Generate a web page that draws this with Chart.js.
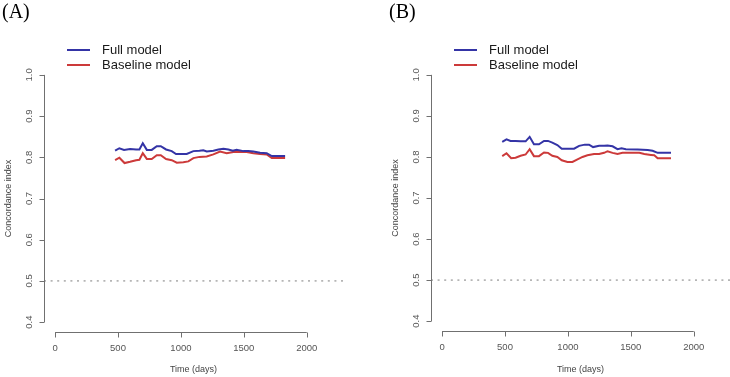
<!DOCTYPE html>
<html>
<head>
<meta charset="utf-8">
<script src="https://cdn.jsdelivr.net/npm/chart.js@4/dist/chart.umd.min.js"></script>
<style>
  body { margin: 0; background: #fff; }
  #wrap { position: relative; width: 730px; height: 377px; overflow: hidden; }
  canvas { position: absolute; top: 0; }
</style>
</head>
<body>
<div id="wrap">
  <canvas id="panelA" width="365" height="377" style="left:0"></canvas>
  <canvas id="panelB" width="343" height="377" style="left:387px"></canvas>
</div>
<script>
// axis ticks (R-style: axes only span the tick range)
const xTicks = [0, 500, 1000, 1500, 2000];
const yTicks = [0.4, 0.5, 0.6, 0.7, 0.8, 0.9, 1.0];
const refLevel = 0.5;

// panel A
const daysAFull = [477,511,548,596,644,670,697,729,768,808,840,882,927,961,993,1046,1099,1147,1178,1205,1258,1298,1338,1377,1412,1443,1496,1536,1576,1629,1682,1722,1828];
const cAFull = [0.816,0.822,0.818,0.820,0.819,0.819,0.834,0.818,0.818,0.827,0.827,0.819,0.815,0.808,0.808,0.808,0.815,0.816,0.817,0.814,0.816,0.819,0.821,0.819,0.816,0.818,0.815,0.815,0.814,0.811,0.810,0.803,0.803];
const daysABase = [477,511,552,596,644,670,697,729,768,808,840,882,927,967,1019,1059,1099,1147,1205,1258,1311,1364,1417,1470,1523,1576,1629,1682,1722,1828];
const cABase = [0.793,0.799,0.786,0.789,0.793,0.794,0.810,0.796,0.796,0.805,0.805,0.796,0.793,0.787,0.788,0.790,0.798,0.801,0.802,0.807,0.814,0.810,0.813,0.813,0.813,0.810,0.808,0.807,0.798,0.798];

// panel B
const daysBFull = [478,512,544,584,624,664,696,730,770,810,842,876,916,951,996,1049,1089,1134,1168,1200,1248,1288,1315,1355,1394,1426,1461,1554,1634,1673,1713,1819];
const cBFull = [0.837,0.843,0.839,0.839,0.838,0.838,0.849,0.831,0.831,0.839,0.839,0.835,0.829,0.820,0.820,0.820,0.827,0.830,0.830,0.824,0.827,0.827,0.828,0.826,0.819,0.821,0.819,0.818,0.817,0.815,0.810,0.810];
const daysBBase = [478,512,549,584,624,664,696,730,770,810,842,876,916,951,996,1036,1076,1116,1155,1208,1248,1288,1315,1355,1394,1434,1501,1567,1607,1660,1686,1713,1819];
const cBBase = [0.802,0.809,0.797,0.798,0.803,0.806,0.819,0.802,0.802,0.811,0.810,0.803,0.800,0.792,0.788,0.788,0.794,0.800,0.804,0.807,0.807,0.810,0.814,0.810,0.807,0.810,0.810,0.810,0.807,0.805,0.804,0.797,0.797];

const seriesNames = ['Full model', 'Baseline model'];
const seriesColors = ['#3434a6', '#cc3a3a'];

// R pads the axis range by 4%
const xMin = -88, xMax = 2288;
const yMin = 0.376, yMax = 1.024;

Chart.defaults.font.family = "'Liberation Sans', Arial, sans-serif";
Chart.defaults.color = '#555';

const toPts = (xs, ys) => xs.map((x, i) => ({ x: x, y: ys[i] }));

const rStyle = {
  id: 'rStyle',
  afterDraw(chart, args, opts) {
    const ctx = chart.ctx;
    const sx = chart.scales.x, sy = chart.scales.y;
    const ca = chart.chartArea;
    ctx.save();
    ctx.strokeStyle = '#707070';
    ctx.lineWidth = 1;
    // y axis
    const ax = Math.round(ca.left) + 0.5;
    const yTop = sy.getPixelForValue(yTicks[yTicks.length - 1]);
    const yBot = sy.getPixelForValue(yTicks[0]);
    ctx.beginPath();
    ctx.moveTo(ax, yTop); ctx.lineTo(ax, yBot);
    yTicks.forEach(v => {
      const p = Math.round(sy.getPixelForValue(v)) + 0.5;
      ctx.moveTo(ax, p); ctx.lineTo(ax - 5, p);
    });
    // x axis
    const ay = Math.round(ca.bottom) + 0.5;
    const xL = sx.getPixelForValue(xTicks[0]);
    const xR = sx.getPixelForValue(xTicks[xTicks.length - 1]);
    ctx.moveTo(xL, ay); ctx.lineTo(xR, ay);
    xTicks.forEach(v => {
      const p = Math.round(sx.getPixelForValue(v)) + 0.5;
      ctx.moveTo(p, ay); ctx.lineTo(p, ay + 5);
    });
    ctx.stroke();

    // legend
    ctx.lineWidth = 2;
    ctx.font = "13px 'Liberation Sans', Arial, sans-serif";
    ctx.textBaseline = 'middle';
    ctx.fillStyle = '#1a1a1a';
    seriesNames.forEach((name, i) => {
      const ly = 50 + 15 * i;
      ctx.strokeStyle = seriesColors[i];
      ctx.beginPath();
      ctx.moveTo(67, ly); ctx.lineTo(90, ly);
      ctx.stroke();
      ctx.fillText(name, 102, ly);
    });

    // panel letter
    ctx.font = "20px 'Liberation Serif', 'Times New Roman', serif";
    ctx.textBaseline = 'alphabetic';
    ctx.fillStyle = '#000';
    ctx.fillText(opts.label, 2, 18);
    ctx.restore();
  }
};

function makePanel(id, label, d1, v1, d2, v2, rightPad, xHeight) {
  return new Chart(document.getElementById(id).getContext('2d'), {
    type: 'line',
    data: {
      datasets: [{
        label: seriesNames[0],
        data: toPts(d1, v1),
        borderColor: seriesColors[0],
        borderWidth: 2,
        pointRadius: 0,
        tension: 0
      }, {
        label: seriesNames[1],
        data: toPts(d2, v2),
        borderColor: seriesColors[1],
        borderWidth: 2,
        pointRadius: 0,
        tension: 0
      }, {
        label: 'ref',
        data: [{ x: xMin, y: refLevel }, { x: xMax, y: refLevel }],
        borderColor: '#b5b5b5',
        borderWidth: 1.6,
        borderDash: [2, 4.6],
        pointRadius: 0
      }]
    },
    options: {
      responsive: false,
      animation: false,
      layout: { padding: { top: 65, right: rightPad, bottom: 0, left: 0 } },
      scales: {
        x: {
          type: 'linear',
          min: xMin,
          max: xMax,
          afterBuildTicks: s => { s.ticks = xTicks.map(v => ({ value: v })); },
          afterFit: s => { s.height = xHeight; },
          grid: { display: false, drawTicks: false },
          border: { display: false },
          ticks: {
            padding: 10.5,
            maxRotation: 0,
            font: { size: 9.5 },
            callback: v => String(v)
          },
          title: {
            display: true,
            text: 'Time (days)',
            color: '#444',
            font: { size: 9 },
            padding: { top: 0, bottom: 2.5 }
          }
        },
        y: {
          min: yMin,
          max: yMax,
          afterBuildTicks: s => { s.ticks = yTicks.map(v => ({ value: v })); },
          afterFit: s => { s.width = 44; },
          grid: { display: false, drawTicks: false },
          border: { display: false },
          ticks: {
            padding: 8.5,
            minRotation: 90,
            maxRotation: 90,
            crossAlign: 'center',
            font: { size: 9.5 },
            callback: v => v.toFixed(1)
          },
          title: {
            display: true,
            text: 'Concordance index',
            color: '#444',
            font: { size: 9 },
            padding: { top: 3.2, bottom: 0 }
          }
        }
      },
      plugins: {
        legend: { display: false },
        tooltip: { enabled: false },
        rStyle: { label: label }
      }
    },
    plugins: [rStyle]
  });
}

makePanel('panelA', '(A)', daysAFull, cAFull, daysABase, cABase, 22, 45);
makePanel('panelB', '(B)', daysBFull, cBFull, daysBBase, cBBase, 0, 46);
</script>
</body>
</html>
